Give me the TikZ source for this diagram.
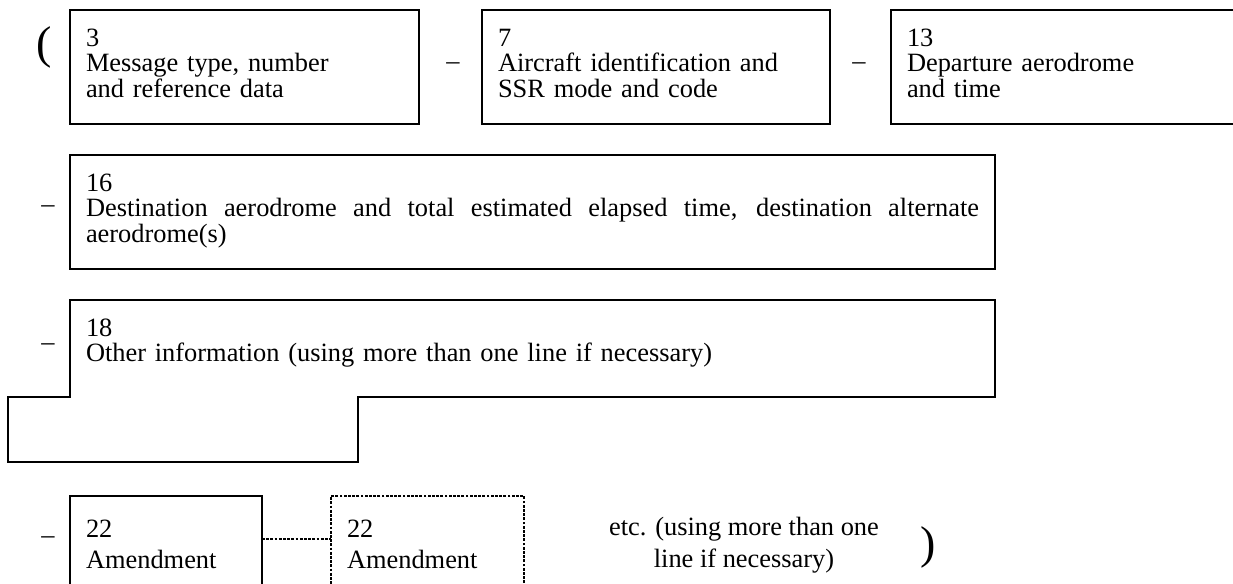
\documentclass[tikz,border=0pt]{standalone}
\usepackage{fontspec}
\setmainfont{Liberation Serif}
\usepackage{tikz}

\tikzset{
  txt/.style={font=\fontsize{13.2}{12.75}\selectfont},
  field/.style={txt, draw, line width=0.6pt, anchor=north west, align=left,
    inner xsep=8pt, inner ysep=0pt, outer sep=0pt, text height=18pt},
  sepmark/.style={txt, inner sep=0pt},
  paren/.style={font=\fontsize{23}{23}\selectfont, inner sep=0pt},
  finedash/.style={dash pattern=on 1.4pt off 0.7pt}
}

\begin{document}
\begin{tikzpicture}[x=0.5pt,y=-0.5pt]
  \useasboundingbox (0,0) rectangle (1233,584);
  \clip (0,0) rectangle (1233,584);
  % first row
  \node[paren](open) at (44,47) {(};
  \node[field,text width=158.5pt,text depth=39pt](msg) at (70,10) {3\\Message type, number\\and reference data};
  \node[sepmark](s1) at (453,66) {--};
  \node[field,text width=158pt,text depth=39pt](acid) at (482,10) {7\\Aircraft identification and\\SSR mode and code};
  \node[sepmark](s2) at (859,66) {--};
  \node[field,text width=200pt,text depth=39pt](dep) at (891,10) {13\\Departure aerodrome\\and time};
  % destination
  \node[sepmark](s3) at (48,209) {--};
  \node[field,text width=446.5pt,text depth=39pt,align=justify](dest) at (70,155) {16\\Destination aerodrome and total estimated elapsed time, destination alternate\linebreak aerodrome(s)};
  % other information, box with an extra part below
  \node[sepmark](s4) at (48,347) {--};
  \node[field,draw=none,text width=446.5pt,text depth=30.5pt](info) at (70,300) {18\\Other information (using more than one line if necessary)};
  \node[anchor=north west,inner sep=0pt,outer sep=0pt,minimum width=175pt,minimum height=32.5pt](infoext) at (8,397) {};
  \draw[line width=0.6pt] (info.south west) -- (info.north west) -- (info.north east) -- (info.south east)
    -- (infoext.north east) -- (infoext.south east) -- (infoext.south west) -- (infoext.north west) -- cycle;
  % amendments
  \node[sepmark](s5) at (48,540) {--};
  \node[field,text height=20.5pt,text depth=29.5pt,text width=80pt](amd) at (70,496) {22\\[3pt]Amendment};
  \node[field,finedash,text height=20.5pt,text depth=29.5pt,text width=80.5pt](amdnext) at (331,496) {22\\[3pt]Amendment};
  \draw[finedash,line width=0.6pt] ([yshift=-21.5pt]amd.north east) -- ([yshift=-21.5pt]amdnext.north west);
  \node[txt,align=center,anchor=base](etc) at (744,567) {etc. (using more than one\\[3pt]line if necessary)};
  \node[paren](close) at (928,547) {)};
\end{tikzpicture}
\end{document}
